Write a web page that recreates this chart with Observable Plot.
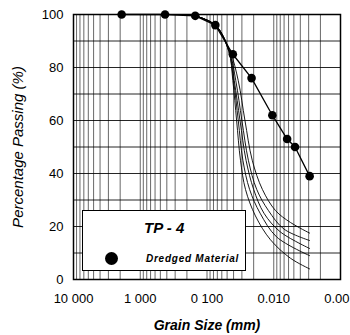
<!DOCTYPE html>
<html><head><meta charset="utf-8">
<script src="https://cdn.jsdelivr.net/npm/d3@7"></script>
<script src="https://cdn.jsdelivr.net/npm/@observablehq/plot@0.6"></script>
<style>
body{margin:0;background:#fff;font-family:"Liberation Sans",Arial,sans-serif;}
#wrap{position:relative;width:350px;height:335px;overflow:hidden;background:#fff;}
#legend{position:absolute;left:82px;top:210px;width:162px;height:59px;background:#fff;border:1.5px solid #000;box-sizing:content-box;}
#lt{position:absolute;left:61px;top:9px;font-size:15px;font-weight:bold;font-style:italic;line-height:15px;}
#ldot{position:absolute;left:22px;top:41px;width:13px;height:13px;border-radius:50%;background:#000;}
#lr{position:absolute;left:63px;top:42px;font-size:10px;font-weight:bold;font-style:italic;letter-spacing:0.75px;line-height:11px;}
</style></head>
<body>
<div id="wrap"><div id="chart"></div>
<div id="legend"><div id="lt">TP - 4</div><div id="ldot"></div><div id="lr">Dredged Material</div></div>
</div>
<script>
// Dredged material grain size distribution (mm, % passing)
const sizeMm = [1.9, 0.425, 0.15, 0.075, 0.041, 0.0215, 0.0105, 0.0063, 0.0048, 0.0029];
const passingPct = [100, 100, 99.5, 96, 85, 76, 62, 53, 50, 39];

// Envelope / reference curves (mm, % passing)
const curveA = [[0.15,99.5],[0.075,96],[0.047,86],[0.041,75],[0.036,60],[0.0315,45],[0.0265,34],[0.0188,24],[0.0112,15],[0.0056,8],[0.0029,4]];
const curveB = [[0.15,99.5],[0.075,96],[0.046,86],[0.037,75],[0.030,60],[0.024,45],[0.018,34],[0.012,26],[0.007,19],[0.0029,14.7]];
const curveC = [[0.15,99.5],[0.075,96],[0.046,86],[0.039,75],[0.032,60],[0.026,45],[0.020,34],[0.014,25],[0.008,18],[0.0029,11.7]];
const curveD = [[0.15,99.5],[0.075,96],[0.047,86],[0.040,75],[0.034,60],[0.029,45],[0.023,34],[0.016,25],[0.009,16],[0.0029,9]];
const curveE = [[0.15,99.5],[0.075,96],[0.045,86],[0.034,75],[0.027,60],[0.021,45],[0.0148,34],[0.0094,26],[0.0056,21.5],[0.0029,17.5]];

const xTicks = [10, 1, 0.1, 0.01, 0.001];
const xTickLabels = ["10 000", "1 000", "0 100", "0.010", "0.001"];
const yTicks = [0, 20, 40, 60, 80, 100];
const yGrid = [0, 10, 20, 30, 40, 50, 60, 70, 80, 90, 100];
const gridMultipliers = [1, 2, 3, 4, 5, 6, 7, 8, 9];
const gridDecades = [0.001, 0.01, 0.1, 1];

const xGrid = gridDecades.flatMap(d => gridMultipliers.map(m => m * d)).concat([10]);
const dredged = sizeMm.map((s, i) => ({size: s, pass: passingPct[i]}));
const curveRows = [curveA, curveB, curveC, curveD, curveE].flatMap((c, id) => c.map(([size, pass]) => ({size, pass, id})));
const labelMap = new Map(xTicks.map((t, i) => [t, xTickLabels[i]]));

const chart = Plot.plot({
  width: 350, height: 335,
  marginLeft: 73, marginRight: 10, marginTop: 14, marginBottom: 56,
  style: {fontFamily: "Liberation Sans, Arial, sans-serif", fontSize: "13px", background: "#fff", color: "#000"},
  x: {type: "log", domain: [10, 0.001]},
  y: {domain: [0, 100]},
  marks: [
    Plot.ruleX(xGrid, {stroke: "#000", strokeOpacity: 0.75, strokeWidth: 0.8}),
    Plot.ruleY(yGrid, {stroke: "#000", strokeOpacity: 0.85, strokeWidth: 1}),
    Plot.line(curveRows, {x: "size", y: "pass", z: "id", stroke: "#000", strokeWidth: 0.9, curve: "catmull-rom"}),
    Plot.line(dredged, {x: "size", y: "pass", stroke: "#000", strokeWidth: 1.3}),
    Plot.dot(dredged, {x: "size", y: "pass", r: 4.3, fill: "#000"}),
    Plot.frame({stroke: "#000", strokeWidth: 1.5}),
    Plot.axisX(xTicks, {tickSize: 0, tickPadding: 14, tickFormat: d => labelMap.get(d), label: null, fontSize: 13}),
    Plot.axisY(yTicks, {tickSize: 0, tickPadding: 10, label: null, fontSize: 13}),
    Plot.text(["Percentage Passing (%)"], {frameAnchor: "left", dx: -55, rotate: -90, textAnchor: "middle", lineAnchor: "middle", fontStyle: "italic", fontSize: 15}),
    Plot.text(["Grain Size (mm)"], {frameAnchor: "bottom", dy: 46, textAnchor: "middle", lineAnchor: "middle", fontStyle: "italic", fontWeight: "bold", fontSize: 14})
  ]
});
document.getElementById("chart").appendChild(chart);
</script>
</body></html>
